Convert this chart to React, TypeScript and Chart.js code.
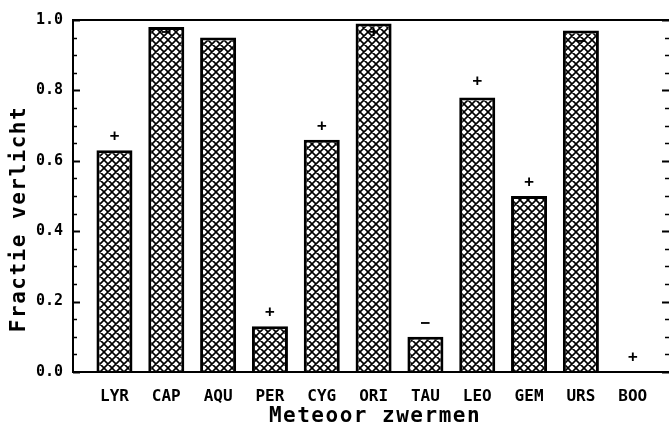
import React, { useEffect, useRef } from "react";
import { Chart, registerables } from "chart.js";

Chart.register(...registerables);

// ---- data ----
const categories = ["LYR", "CAP", "AQU", "PER", "CYG", "ORI", "TAU", "LEO", "GEM", "URS", "BOO"];
const fractions = [0.63, 0.98, 0.95, 0.13, 0.66, 0.99, 0.1, 0.78, 0.5, 0.97, 0.0];
const signs = ["+", "\u2212", "\u2212", "+", "+", "+", "\u2212", "+", "+", "\u2212", "+"];
const signLevels = [0.668, 0.963, 0.915, 0.168, 0.696, 0.963, 0.136, 0.825, 0.538, 0.9375, 0.04];
const yMajorStep = 0.2;
const yMinorStep = 0.05;
const xTitle = "Meteoor zwermen";
const yTitle = "Fractie verlicht";

const FONT = "'DejaVu Sans Mono', 'Liberation Mono', monospace";

function makeHatch(ctx: CanvasRenderingContext2D) {
  const s = 8;
  const c = document.createElement("canvas");
  c.width = s;
  c.height = s;
  const g = c.getContext("2d")!;
  g.fillStyle = "#fff";
  g.fillRect(0, 0, s, s);
  g.strokeStyle = "#000";
  g.lineWidth = 1.6;
  g.beginPath();
  g.moveTo(-2, -2); g.lineTo(s + 2, s + 2);
  g.moveTo(s + 2, -2); g.lineTo(-2, s + 2);
  g.moveTo(-2, s - 2); g.lineTo(2, s + 2);
  g.moveTo(s - 2, -2); g.lineTo(s + 2, 2);
  g.moveTo(s - 2, s + 2); g.lineTo(s + 2, s - 2);
  g.moveTo(-2, 2); g.lineTo(2, -2);
  g.stroke();
  return ctx.createPattern(c, "repeat");
}

const decor = {
  id: "decor",
  afterDraw(chart: any) {
    const { ctx, chartArea: a, scales } = chart;
    const x = scales.x;
    const y = scales.y;
    ctx.save();
    ctx.strokeStyle = "#000";
    ctx.fillStyle = "#000";
    // frame lines
    ctx.lineWidth = 2;
    ctx.beginPath();
    ctx.moveTo(a.left, a.top);
    ctx.lineTo(a.right, a.top);
    ctx.moveTo(a.left, a.top - 1);
    ctx.lineTo(a.left, a.bottom + 1);
    ctx.moveTo(a.left - 1, a.bottom);
    ctx.lineTo(a.right, a.bottom);
    ctx.stroke();
    // y ticks (inward), both sides
    const n = Math.round(1 / yMinorStep);
    for (let i = 0; i <= n; i++) {
      const v = i * yMinorStep;
      const major = Math.abs(v / yMajorStep - Math.round(v / yMajorStep)) < 1e-6;
      const py = Math.round(y.getPixelForValue(v)) + 0.5;
      ctx.lineWidth = major ? 2 : 1.5;
      const len = major ? 7 : 4;
      ctx.beginPath();
      ctx.moveTo(a.left, py);
      ctx.lineTo(a.left + len, py);
      ctx.moveTo(a.right, py);
      ctx.lineTo(a.right - len, py);
      ctx.stroke();
    }
    // significance signs
    ctx.font = `bold 16px ${FONT}`;
    ctx.textAlign = "center";
    ctx.textBaseline = "middle";
    signs.forEach((s, i) => {
      ctx.fillText(s, x.getPixelForValue(i + 1), y.getPixelForValue(signLevels[i]));
    });
    // axis titles
    ctx.font = `bold 21px ${FONT}`;
    (ctx as any).letterSpacing = "1.5px";
    ctx.textAlign = "center";
    ctx.textBaseline = "middle";
    ctx.fillText(xTitle, (a.left + a.right) / 2 + 4, a.bottom + 45);
    ctx.translate(20, (a.top + a.bottom) / 2 + 23);
    ctx.rotate(-Math.PI / 2);
    ctx.fillText(yTitle, 0, 0);
    ctx.restore();
  },
};

export default function App() {
  const ref = useRef<HTMLCanvasElement>(null);
  useEffect(() => {
    document.body.style.margin = "0";
    const canvas = ref.current!;
    const ctx = canvas.getContext("2d")!;
    const hatch = makeHatch(ctx);
    const chart = new Chart(canvas, {
      type: "bar",
      data: {
        datasets: [
          {
            data: fractions.map((v, i) => ({ x: i + 1, y: v })),
            backgroundColor: hatch as any,
            borderColor: "#000",
            borderWidth: 3,
            borderSkipped: "bottom",
            barPercentage: 0.695,
            categoryPercentage: 1,
          },
        ],
      },
      options: {
        responsive: false,
        animation: false,
        devicePixelRatio: 1,
        layout: { padding: { top: 20, right: 0, left: 0, bottom: 0 } },
        plugins: { legend: { display: false }, tooltip: { enabled: false } },
        scales: {
          x: {
            type: "linear",
            offset: false,
            min: 0.2,
            max: 11.7,
            grid: { display: false, drawTicks: false, offset: false },
            border: { display: false },
            afterBuildTicks: (s: any) => {
              s.ticks = categories.map((_, i) => ({ value: i + 1 }));
            },
            afterFit: (s: any) => {
              s.height = 60;
            },
            ticks: {
              autoSkip: false,
              maxRotation: 0,
              padding: 15,
              color: "#000",
              font: { family: FONT, size: 16, weight: "bold" },
              callback: (_v: any, i: number) => categories[i],
            },
          },
          y: {
            min: 0,
            max: 1,
            grid: { display: false, drawTicks: false },
            border: { display: false },
            afterFit: (s: any) => {
              s.width = 73;
            },
            ticks: {
              stepSize: yMajorStep,
              padding: 10,
              color: "#000",
              font: { family: FONT, size: 15, weight: "bold" },
              callback: (v: any) => Number(v).toFixed(1),
            },
          },
        },
      },
      plugins: [decor],
    });
    return () => chart.destroy();
  }, []);
  return (
    <div style={{ width: 669, height: 432, background: "#fff" }}>
      <canvas ref={ref} width={669} height={432} style={{ display: "block" }} />
    </div>
  );
}
